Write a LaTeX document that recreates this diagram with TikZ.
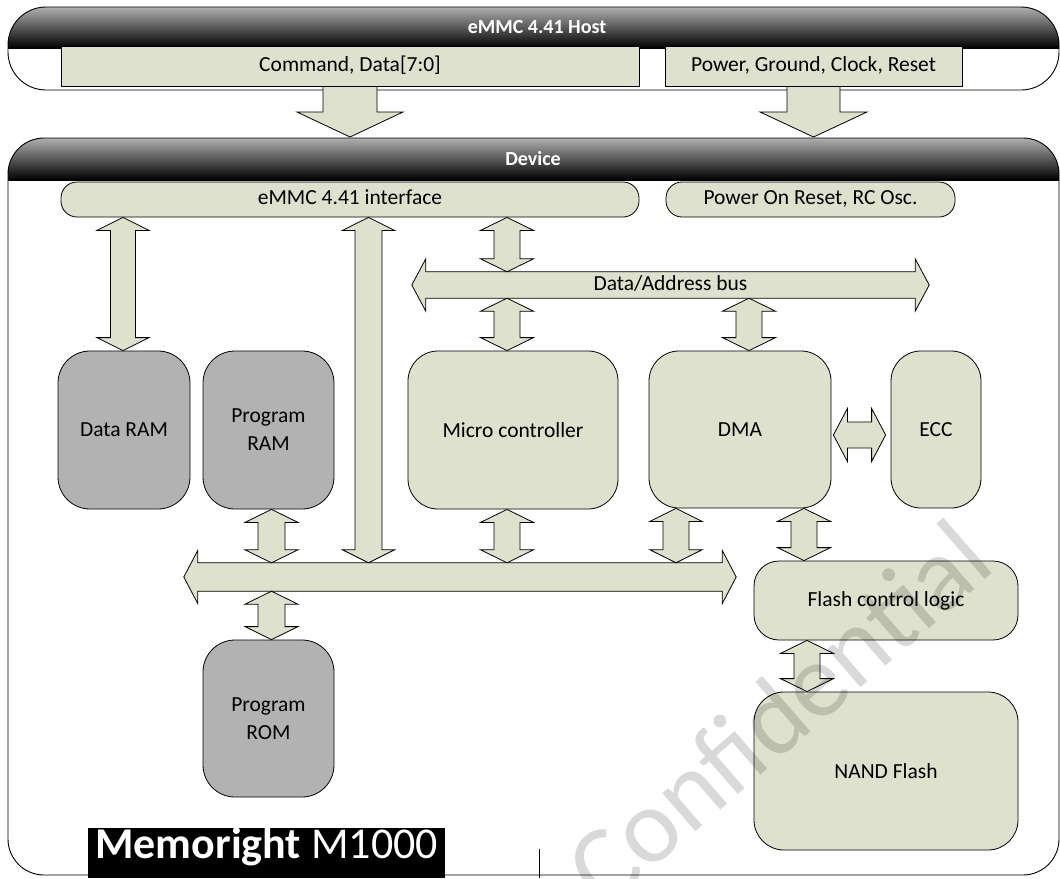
\documentclass[tikz,border=0pt]{standalone}
\usepackage{fontspec}
\setmainfont{Carlito}
\usetikzlibrary{calc}
\definecolor{boxg}{RGB}{221,225,205}
\definecolor{boxgray}{RGB}{178,178,178}
\definecolor{hdtop}{RGB}{175,175,175}
\newcommand\mybody{\fontsize{21.5pt}{28pt}\selectfont}
\newcommand\mytitle{\fontsize{20pt}{24pt}\selectfont\bfseries}
\newcommand\mymemo{\fontsize{44pt}{50pt}\selectfont}
\newcommand\mywm{\fontsize{106pt}{106pt}\selectfont}
% vertical double block arrow: x, top anchor, bottom anchor, head half width, shaft half width, head length
\newcommand\VDA[6]{\draw[barrow] let \p1=(#2), \p2=(#3) in
 (#1pt,\y1) -- (#1pt+#4pt,\y1-#6pt) -- (#1pt+#5pt,\y1-#6pt) -- (#1pt+#5pt,\y2+#6pt)
 -- (#1pt+#4pt,\y2+#6pt) -- (#1pt,\y2) -- (#1pt-#4pt,\y2+#6pt) -- (#1pt-#5pt,\y2+#6pt)
 -- (#1pt-#5pt,\y1-#6pt) -- (#1pt-#4pt,\y1-#6pt) -- cycle;}
% single down block arrow: x, top anchor, tip anchor, head half, shaft half, head length
\newcommand\SDA[6]{\draw[barrow] let \p1=(#2), \p2=(#3) in
 (#1pt-#5pt,\y1) -- (#1pt+#5pt,\y1) -- (#1pt+#5pt,\y2+#6pt) -- (#1pt+#4pt,\y2+#6pt)
 -- (#1pt,\y2) -- (#1pt-#4pt,\y2+#6pt) -- (#1pt-#5pt,\y2+#6pt) -- cycle;}
% horizontal double block arrow: left anchor, right anchor, head half, shaft half, head length
\newcommand\HDA[5]{\draw[barrow] let \p1=(#1), \p2=(#2) in
 (\x1,\y1) -- (\x1+#5pt,\y1+#3pt) -- (\x1+#5pt,\y1+#4pt) -- (\x2-#5pt,\y1+#4pt)
 -- (\x2-#5pt,\y1+#3pt) -- (\x2,\y1) -- (\x2-#5pt,\y1-#3pt) -- (\x2-#5pt,\y1-#4pt)
 -- (\x1+#5pt,\y1-#4pt) -- (\x1+#5pt,\y1-#3pt) -- cycle;}
% bus: node name, head extension, head length
\newcommand\BUS[3]{\draw[barrow] let \p1=(#1.north west), \p2=(#1.south east) in
 (\x1,\y1) -- (\x2,\y1) -- (\x2,\y1+#2pt) -- (\x2+#3pt,0.5*\y1+0.5*\y2) -- (\x2,\y2-#2pt)
 -- (\x2,\y2) -- (\x1,\y2) -- (\x1,\y2-#2pt) -- (\x1-#3pt,0.5*\y1+0.5*\y2) -- (\x1,\y1+#2pt) -- cycle;}
\tikzset{
 frame/.style={draw=black, line width=0.9pt},
 gbox/.style={draw=black, fill=boxg, line width=0.8pt, inner sep=0pt, font=\mybody, align=center},
 graybox/.style={gbox, fill=boxgray},
 barrow/.style={draw=black, fill=boxg, line width=0.8pt, line join=miter},
 one/.style={text height=14pt, text depth=4pt},
 title/.style={text=white, font=\mytitle, inner sep=0pt},
}
\begin{document}
\begin{tikzpicture}[x=1pt,y=-1pt]
\useasboundingbox (0,0) rectangle (1060,878);
\clip (0,0) rectangle (1060,878);
\fill[white] (0,0) rectangle (1060,878);

% host bar
\begin{scope}
 \clip[rounded corners=38pt] (8,7) rectangle (1059,90);
 \fill[white] (8,7) rectangle (1059,90);
 \shade[top color=hdtop, bottom color=black] (8,7) rectangle (1059,48);
\end{scope}
\draw[frame, rounded corners=38pt] (8,7) rectangle (1059,90);

% device frame
\begin{scope}
 \clip[rounded corners=36pt] (8,138) rectangle (1059,875);
 \fill[white] (8,138) rectangle (1059,875);
 \shade[top color=hdtop, bottom color=black] (8,138) rectangle (1059,180);
\end{scope}
\draw[frame, rounded corners=36pt] (8,138) rectangle (1059,875);

\node[title] (hosttitle) at (537,27) {eMMC 4.41 Host};
\node[title] (devtitle) at (533,159) {Device};

% host signals
\node[gbox,one,minimum width=578pt,minimum height=40pt] (cmd) at (350,66) {Command, Data[7:0]};
\node[gbox,one,minimum width=297pt,minimum height=40pt] (pwr) at (813.5,66) {Power, Ground, Clock, Reset};
\coordinate (devtop) at (0,137);
\SDA{350}{cmd.south}{devtop}{53}{27}{25}
\SDA{813.5}{pwr.south}{devtop}{53.5}{26.5}{25}

% device blocks
\node[gbox,one,rounded corners=16pt,minimum width=578pt,minimum height=35pt] (iface) at (350,199.5) {eMMC 4.41 interface};
\node[gbox,one,rounded corners=16pt,minimum width=289pt,minimum height=35pt] (por) at (810.5,199.5) {Power On Reset, RC Osc.};

\path node[inner sep=0pt, minimum width=489pt, minimum height=26pt] (dbus) at (670.5,285) {};
\BUS{dbus}{13}{14}
\node[one, font=\mybody, inner sep=0pt] (dbuslbl) at (dbus.center) {Data/Address bus};

\path node[inner sep=0pt, minimum width=524pt, minimum height=28pt] (lbus) at (460,577) {};
\BUS{lbus}{12.5}{14}

\node[graybox, rounded corners=32pt, minimum width=132pt, minimum height=158pt] (dram) at (124,430) {Data RAM};
\node[graybox, rounded corners=32pt, minimum width=131pt, minimum height=158pt] (pram) at (268.5,430) {Program\\RAM};
\node[gbox, rounded corners=30pt, minimum width=210pt, minimum height=158pt] (micro) at (513,430) {Micro controller};
\node[gbox, rounded corners=30pt, minimum width=182pt, minimum height=157pt] (dma) at (740,429.5) {DMA};
\node[gbox, rounded corners=30pt, minimum width=90pt, minimum height=157pt] (ecc) at (936,429.5) {ECC};
\node[graybox, rounded corners=32pt, minimum width=131pt, minimum height=157pt] (prom) at (268.5,718.5) {Program\\ROM};
\node[gbox, rounded corners=25pt, minimum width=264pt, minimum height=79pt] (flash) at (886,600.5) {Flash control logic};
\node[gbox, rounded corners=30pt, minimum width=264pt, minimum height=158pt] (nand) at (886,771) {NAND Flash};

% block arrows
\VDA{123}{iface.south}{dram.north}{26}{12.5}{13}
\VDA{368.5}{iface.south}{lbus.north}{26}{13.5}{13}
\VDA{507}{iface.south}{dbus.north}{26.5}{13}{13}
\VDA{507}{dbus.south}{micro.north}{26.5}{13}{13}
\VDA{749}{dbus.south}{dma.north}{26.5}{13}{13}
\VDA{271.5}{pram.south}{lbus.north}{26.5}{13.5}{13}
\VDA{271.5}{lbus.south}{prom.north}{26.5}{13.5}{13}
\VDA{507}{micro.south}{lbus.north}{26.5}{13}{13}
\VDA{676}{dma.south}{lbus.north}{26}{13}{13}
\VDA{804}{dma.south}{flash.north}{26.5}{13}{13}
\VDA{807}{flash.south}{nand.north}{26.5}{13}{13}
\HDA{[xshift=2pt,yshift=-5.5pt]dma.east}{[xshift=-5pt,yshift=-5.5pt]ecc.west}{26.5}{13}{14}

% product label
\node[fill=black, inner sep=0pt, minimum width=357pt, minimum height=50pt, text height=30pt, text depth=20pt, text=white, font=\mymemo, anchor=north west] (memo) at (88,828) {\textbf{Memoright} M1000};
\draw[frame] (539,849) -- (539,878);

% watermark
\node[rotate=41, text=black, text opacity=0.15, font=\mywm, inner sep=0pt] (wm) at (778,712) {Confidential};
\end{tikzpicture}
\end{document}
